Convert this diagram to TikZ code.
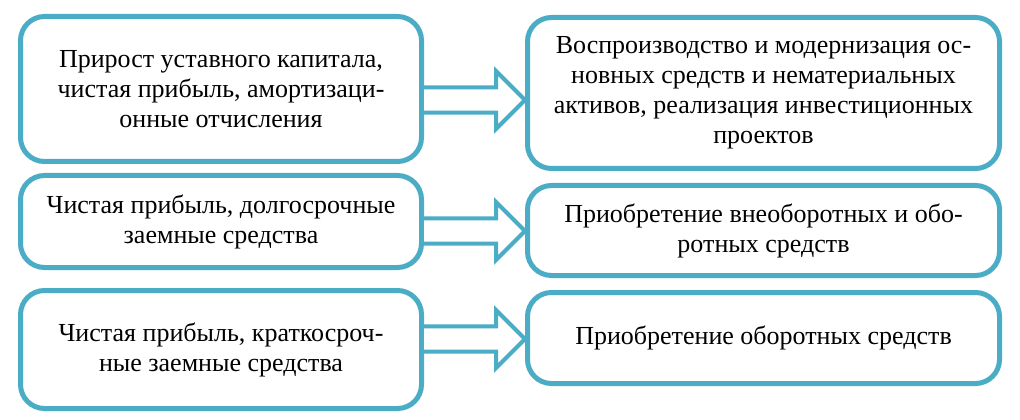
\documentclass[tikz,border=0pt]{standalone}
\usepackage{fontspec}
\setmainfont{Liberation Serif}
\newfontfamily\boxfont{Liberation Serif}
\usetikzlibrary{calc}
\definecolor{boxblue}{HTML}{4BACC6}
\tikzset{
  box/.style={draw=boxblue,line width=3.75pt,rounded corners=18pt,fill=white,
    align=center,inner sep=0pt,font=\boxfont\fontsize{19.5pt}{22.5pt}\selectfont},
  lbox/.style={box,minimum width=300.75pt},
  rbox/.style={box,minimum width=354pt},
  blockarrow/.style={draw=boxblue,line width=3pt,fill=white,line join=miter}
}
\newcommand\blockarrow[2]{%
  \draw[blockarrow] let \p1=(#1),\p2=(#2) in
    (\x1,\y2+9.4pt)--(\x2-21.75pt,\y2+9.4pt)--(\x2-21.75pt,\y2+21.75pt)
    --(\x2,\y2)--(\x2-21.75pt,\y2-21.75pt)--(\x2-21.75pt,\y2-9.4pt)--(\x1,\y2-9.4pt);
}
\begin{document}
\begin{tikzpicture}[x=0.75pt,y=-0.75pt]
\useasboundingbox (0,0) rectangle (1020,420);
% left column
\node[lbox,minimum height=108.75pt] (L1) at (221,89)
  {Прирост уставного капитала,\\чистая прибыль, амортизаци-\\онные отчисления};
\node[lbox,minimum height=69pt] (L2) at (221,221.5)
  {Чистая прибыль, долгосрочные\\заемные средства};
\node[lbox,minimum height=88.5pt] (L3) at (221,349.5)
  {Чистая прибыль, краткосроч-\\ные заемные средства};
% right column
\node[rbox,minimum height=113.25pt] (R1) at (763.5,93)
  {Воспроизводство и модернизация ос-\\новных средств и нематериальных\\активов, реализация инвестиционных\\проектов};
\node[rbox,minimum height=67.5pt] (R2) at (763.5,230.5)
  {Приобретение внеоборотных и обо-\\ротных средств};
\node[rbox,minimum height=68.25pt] (R3) at (763.5,338)
  {Приобретение оборотных средств};
% arrows
\coordinate (a1) at (R1.west|-0,100);
\coordinate (a2) at (R2.west|-0,231);
\coordinate (a3) at (R3.west|-0,339);
\blockarrow{L1.east}{a1}
\blockarrow{L2.east}{a2}
\blockarrow{L3.east}{a3}
\end{tikzpicture}
\end{document}
